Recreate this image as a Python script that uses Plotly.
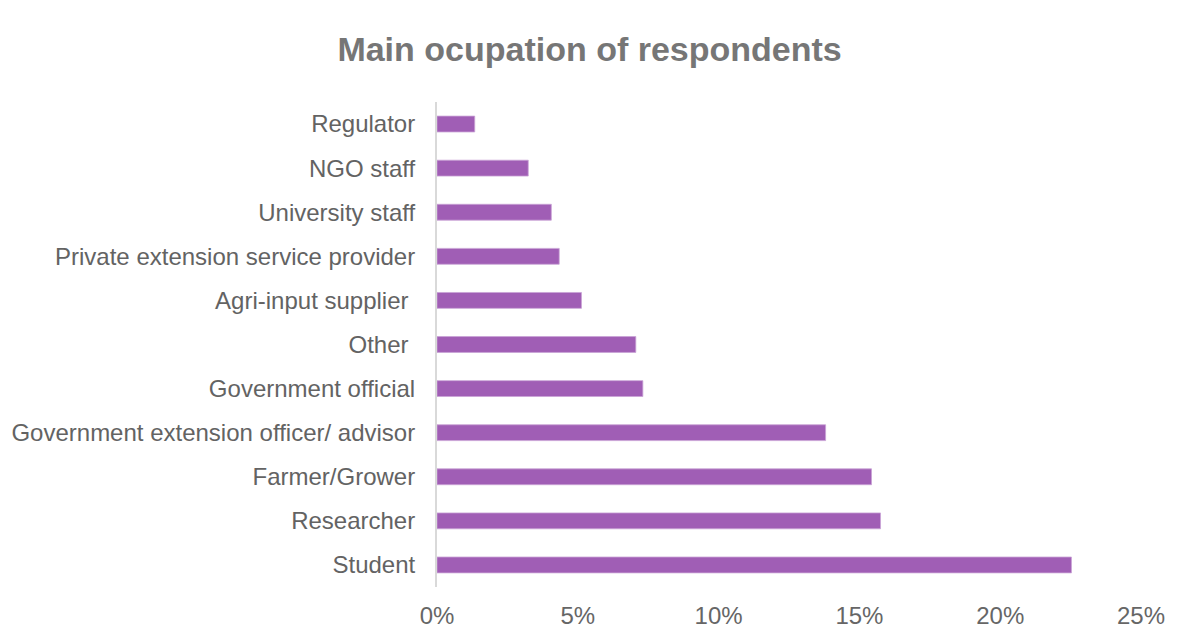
import plotly.graph_objects as go

categories = [
    "Regulator",
    "NGO staff",
    "University staff",
    "Private extension service provider",
    "Agri-input supplier\u00a0",
    "Other\u00a0",
    "Government official",
    "Government extension officer/ advisor",
    "Farmer/Grower",
    "Researcher",
    "Student",
]
shares = [0.0134, 0.0324, 0.0406, 0.0434, 0.0513, 0.0706, 0.0731, 0.1380, 0.1543, 0.1575, 0.2253]
x_ticks = [0, 0.05, 0.10, 0.15, 0.20, 0.25]
x_tick_labels = ["0%", "5%", "10%", "15%", "20%", "25%"]

fig = go.Figure(
    go.Bar(
        x=shares,
        y=categories,
        orientation="h",
        width=0.36,
        marker=dict(color="#A05EB5", line=dict(color="#C9A3D6", width=0.8)),
    )
)

fig.update_layout(
    width=1190,
    height=639,
    paper_bgcolor="white",
    plot_bgcolor="white",
    margin=dict(l=429, r=57, t=94, b=60, autoexpand=False),
    title=dict(
        text="<b>Main ocupation of respondents</b>",
        x=0.4887,
        xanchor="center",
        y=0.935,
        yanchor="middle",
        font=dict(family="Liberation Sans, Arial", size=34, color="#767676"),
    ),
    font=dict(family="Liberation Sans, Arial", size=24, color="#636363"),
    showlegend=False,
)

fig.update_xaxes(
    range=[0, 0.25],
    tickvals=x_ticks,
    ticktext=x_tick_labels,
    showgrid=False,
    zeroline=False,
    showline=False,
    ticks="",
    automargin=False,
    ticklabelstandoff=12,
    tickfont=dict(size=24, color="#666666"),
    fixedrange=True,
)
fig.update_yaxes(
    autorange="reversed",
    showgrid=False,
    zeroline=False,
    showline=True,
    linecolor="#D9D9D9",
    linewidth=2,
    ticks="",
    automargin=False,
    ticklabelstandoff=15,
    tickfont=dict(size=24, color="#636363"),
    fixedrange=True,
)

fig.write_html("out.html")
